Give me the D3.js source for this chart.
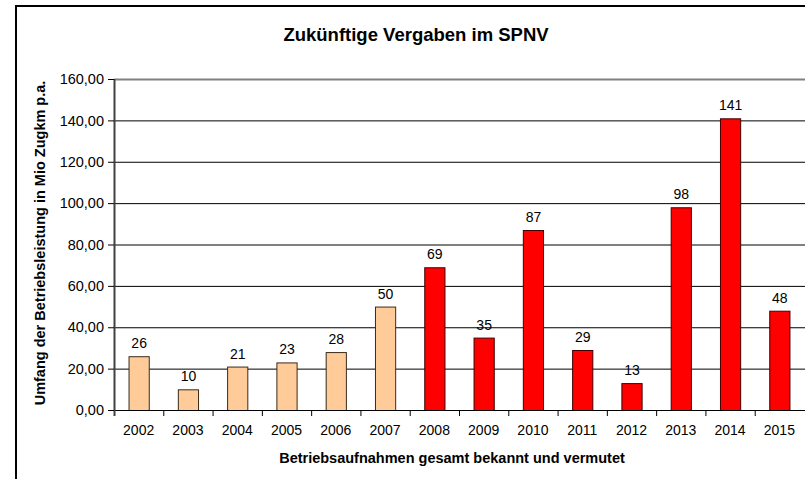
<!DOCTYPE html>
<html>
<head>
<meta charset="utf-8">
<script src="https://cdn.jsdelivr.net/npm/d3@7"></script>
<style>
  body { margin: 0; background: #fff; }
  text { font-family: "Liberation Sans", Arial, sans-serif; }
</style>
</head>
<body>
<div id="chart"></div>
<script>
// Data
var years = ["2002", "2003", "2004", "2005", "2006", "2007", "2008", "2009", "2010", "2011", "2012", "2013", "2014", "2015"];
var values = [26, 10, 21, 23, 28, 50, 69, 35, 87, 29, 13, 98, 141, 48];
var known = [true, true, true, true, true, true, false, false, false, false, false, false, false, false];
var yTicks = [0, 20, 40, 60, 80, 100, 120, 140, 160];

var svgWidth = 805;
var svgHeight = 479;

var chartMargin = { top: 79, left: 114 };
var chartWidth = 690;
var chartHeight = 331;

var svg = d3.select("#chart")
  .append("svg")
  .attr("width", svgWidth)
  .attr("height", svgHeight);

// outer chart frame
svg.append("rect")
  .attr("x", 16)
  .attr("y", 6)
  .attr("width", 900)
  .attr("height", 600)
  .attr("fill", "none")
  .attr("stroke", "#000")
  .attr("stroke-width", 2);

var chartGroup = svg.append("g")
  .attr("transform", `translate(${chartMargin.left}, ${chartMargin.top})`);

var xScale = d3.scaleBand()
  .domain(years)
  .range([0, chartWidth])
  .paddingInner(0.59)
  .paddingOuter(0.295);

var yScale = d3.scaleLinear()
  .domain([0, 160])
  .range([chartHeight, 0]);

var fmt = d => d3.format(".2f")(d).replace(".", ",");

// gridlines
chartGroup.selectAll(".grid")
  .data(yTicks.filter(d => d > 0 && d < 160))
  .enter()
  .append("line")
  .attr("x1", 0)
  .attr("x2", chartWidth + 10)
  .attr("y1", d => yScale(d) + 0.5)
  .attr("y2", d => yScale(d) + 0.5)
  .attr("stroke", "#000")
  .attr("stroke-width", 1);

// top edge of plot area
chartGroup.append("line")
  .attr("x1", 0)
  .attr("x2", chartWidth + 10)
  .attr("y1", 0.5)
  .attr("y2", 0.5)
  .attr("stroke", "#808080")
  .attr("stroke-width", 2);

// bars
chartGroup.selectAll(".bar")
  .data(years)
  .enter()
  .append("rect")
  .attr("x", d => xScale(d) + 0.5)
  .attr("y", (d, i) => yScale(values[i]) + 0.5)
  .attr("width", xScale.bandwidth())
  .attr("height", (d, i) => chartHeight - yScale(values[i]))
  .attr("fill", (d, i) => known[i] ? "#FFCC99" : "#FF0000")
  .attr("stroke", (d, i) => known[i] ? "#3a2a1a" : "#400000")
  .attr("stroke-width", 1);

// value labels
chartGroup.selectAll(".val")
  .data(years)
  .enter()
  .append("text")
  .attr("x", d => xScale(d) + xScale.bandwidth() / 2 + 0.5)
  .attr("y", (d, i) => yScale(values[i]) - 8)
  .attr("text-anchor", "middle")
  .attr("font-size", "14px")
  .attr("fill", "#000")
  .text((d, i) => values[i]);

// axes
var bottomAxis = d3.axisBottom(xScale).tickSize(0).tickPadding(15);
var leftAxis = d3.axisLeft(yScale).tickValues(yTicks).tickFormat(fmt).tickSize(6).tickPadding(4);

var xAxis = chartGroup.append("g")
  .attr("transform", `translate(0, ${chartHeight})`)
  .call(bottomAxis);
xAxis.select(".domain")
  .attr("d", `M0,0.5H${chartWidth + 10}`)
  .attr("stroke", "#000");
xAxis.selectAll("text")
  .attr("font-size", "14px")
  .attr("fill", "#000");

// category boundary ticks
chartGroup.selectAll(".xtick")
  .data(years.slice(1))
  .enter()
  .append("line")
  .attr("x1", d => xScale(d) - xScale.step() * 0.295 + 0.5)
  .attr("x2", d => xScale(d) - xScale.step() * 0.295 + 0.5)
  .attr("y1", chartHeight)
  .attr("y2", chartHeight + 6)
  .attr("stroke", "#000");

var yAxis = chartGroup.append("g")
  .call(leftAxis);
yAxis.select(".domain")
  .attr("d", `M0.5,0V${chartHeight + 6}`)
  .attr("stroke", "#404040")
  .attr("stroke-width", 2);
yAxis.selectAll(".tick line").attr("stroke", "#000");
yAxis.selectAll("text")
  .attr("font-size", "14.5px")
  .attr("fill", "#000");

// title
svg.append("text")
  .attr("x", 416)
  .attr("y", 41)
  .attr("text-anchor", "middle")
  .attr("font-size", "18.5px")
  .attr("font-weight", "bold")
  .text("Zukünftige Vergaben im SPNV");

// axis titles
svg.append("text")
  .attr("x", 452)
  .attr("y", 463)
  .attr("text-anchor", "middle")
  .attr("font-size", "14.5px")
  .attr("font-weight", "bold")
  .text("Betriebsaufnahmen gesamt bekannt und vermutet");

svg.append("text")
  .attr("transform", "translate(45, 243) rotate(-90)")
  .attr("text-anchor", "middle")
  .attr("font-size", "14.5px")
  .attr("font-weight", "bold")
  .text("Umfang der Betriebsleistung in Mio Zugkm p.a.");
</script>
</body>
</html>
